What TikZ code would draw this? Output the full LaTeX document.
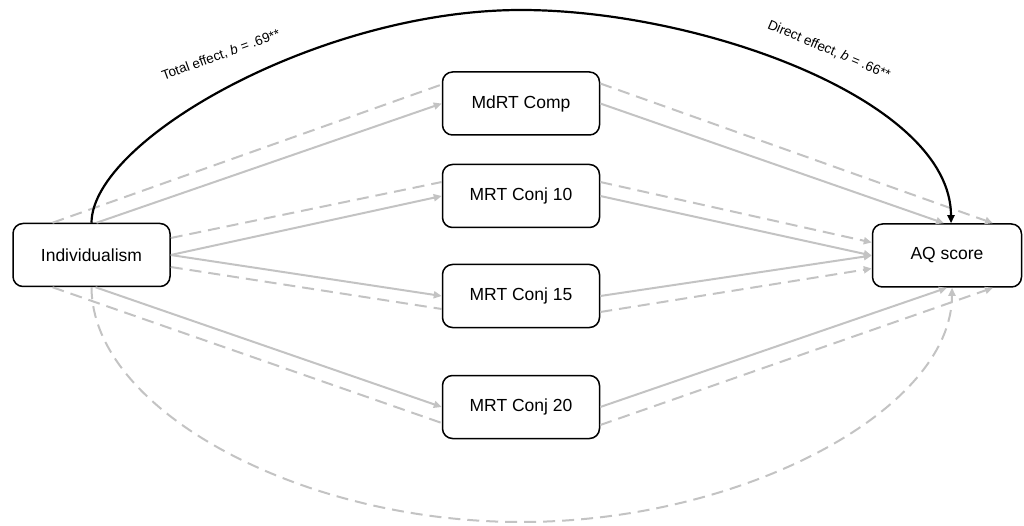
\documentclass[tikz,border=0pt]{standalone}
\usepackage{fontspec}
\setmainfont{Liberation Sans}
\usetikzlibrary{arrows.meta}
\definecolor{pathgrey}{HTML}{C3C3C3}
\begin{document}
\begin{tikzpicture}[x=1pt,y=-1pt,
  box/.style={draw=black,line width=1.5pt,rounded corners=10pt,fill=white,
    minimum width=157pt,minimum height=63pt,inner sep=0pt,font=\fontsize{17.5}{20}\selectfont},
  solidpath/.style={draw=pathgrey,line width=2pt},
  dashpath/.style={draw=pathgrey,line width=2pt,dash pattern=on 12pt off 7pt},
  tip/.style={-{Triangle[length=8pt,width=7pt]}},
  efflabel/.style={font=\fontsize{13.5}{16}\selectfont,inner sep=0pt}]
\useasboundingbox (0,0) rectangle (1024,526);
% nodes
\node[box] (ind) at (91.5,255) {Individualism};
\node[box,minimum width=149pt] (aq) at (947,255.5) {AQ score};
\node[box] (m1) at (521,103.5) {MdRT Comp};
\node[box] (m2) at (521,196) {MRT Conj 10};
\node[box] (m3) at (521,296) {MRT Conj 15};
\node[box] (m4) at (521,407) {MRT Conj 20};
\coordinate (arctop) at (521,10);
\coordinate (arcbot) at (521,522);
% Individualism -> mediators
\draw[solidpath,tip] ([xshift=5pt]ind.north) -- (m1.west);
\draw[dashpath] ([xshift=-39pt]ind.north) -- ([yshift=19pt]m1.west);
\draw[solidpath,tip] (ind.east) -- (m2.west);
\draw[dashpath] ([yshift=17pt]ind.east) -- ([yshift=14pt]m2.west);
\draw[solidpath,tip] (ind.east) -- (m3.west);
\draw[dashpath] ([yshift=-12pt]ind.east) -- ([yshift=-13pt]m3.west);
\draw[solidpath,tip] ([xshift=4pt]ind.south) -- (m4.west);
\draw[dashpath] ([xshift=-39pt]ind.south) -- ([yshift=-16pt]m4.west);
% mediators -> AQ
\draw[solidpath,tip] (m1.east) -- ([xshift=-3pt]aq.north);
\draw[dashpath,tip] ([yshift=20pt]m1.east) -- ([xshift=46pt]aq.north);
\draw[solidpath,tip] (m2.east) -- (aq.west);
\draw[dashpath,tip] ([yshift=14pt]m2.east) -- ([yshift=13pt]aq.west);
\draw[solidpath,tip] (m3.east) -- (aq.west);
\draw[dashpath,tip] ([yshift=-16pt]m3.east) -- ([yshift=-13pt]aq.west);
\draw[solidpath,tip] (m4.east) -- (aq.south);
\draw[dashpath,tip] ([yshift=-18pt]m4.east) -- ([xshift=46pt]aq.south);
% bottom dashed arc
\draw[dashpath,tip] (ind.south) .. controls (92,410) and (300,522) .. (arcbot)
  .. controls (742,522) and (952,410) .. ([xshift=5pt]aq.south);
% top black arc
\draw[black,line width=2.2pt,-{Triangle[length=8pt,width=7pt]}] (ind.north)
  .. controls (92,140) and (320,10) .. (arctop)
  .. controls (700,10) and (951,100) .. ([xshift=4pt]aq.north);
% labels
\node[efflabel,rotate=20] (tot) at (221,55) {Total effect, \textit{b} = .69**};
\node[efflabel,rotate=-23] (dir) at (829,50) {Direct effect, \textit{b} = .66**};
\end{tikzpicture}
\end{document}
